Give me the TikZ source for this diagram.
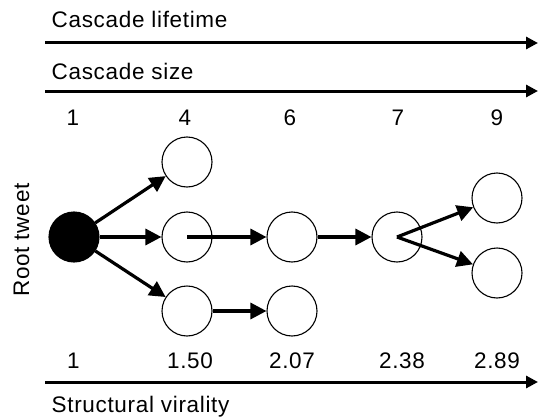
\documentclass[tikz,border=0pt]{standalone}
\usepackage{fontspec}
\setmainfont{Liberation Sans}[LetterSpace=3]
\usetikzlibrary{arrows.meta}
\begin{document}
\begin{tikzpicture}[x=1pt,y=-1pt,
  lbl/.style={font=\fontsize{22.5}{26}\selectfont, inner sep=0pt},
  twt/.style={circle, draw, line width=1.1pt, minimum size=50pt, inner sep=0pt},
  root/.style={twt, fill=black},
  edge/.style={line width=3.2pt, -{Triangle[length=16pt,width=16pt]}},
  axis/.style={line width=3pt, -{Triangle[length=12pt,width=12pt]}}]
\useasboundingbox (0,0) rectangle (538,420);
% axes
\coordinate (l0) at (45,43);  \coordinate (l1) at (538,43);
\coordinate (s0) at (45,91);  \coordinate (s1) at (538,91);
\coordinate (v0) at (45,382); \coordinate (v1) at (538,382);
\draw[axis] (l0) -- (l1);
\draw[axis] (s0) -- (s1);
\draw[axis] (v0) -- (v1);
\node[lbl, anchor=base west] (tl) at (51.5,28) {Cascade lifetime};
\node[lbl, anchor=base west] (ts) at (51.5,80) {Cascade size};
\node[lbl, anchor=base west] (tv) at (51.5,412) {Structural virality};
\node[lbl, rotate=90] (tr) at (21.5,240) {Root tweet};
% size numbers
\node[lbl, anchor=base] (n1) at (73,125) {1};
\node[lbl, anchor=base] (n2) at (185,125) {4};
\node[lbl, anchor=base] (n3) at (290,125) {6};
\node[lbl, anchor=base] (n4) at (398,125) {7};
\node[lbl, anchor=base] (n5) at (497,125) {9};
% virality numbers
\node[lbl, anchor=base] (m1) at (73.5,368) {1};
\node[lbl, anchor=base] (m2) at (190,368) {1.50};
\node[lbl, anchor=base] (m3) at (292,368) {2.07};
\node[lbl, anchor=base] (m4) at (402,368) {2.38};
\node[lbl, anchor=base] (m5) at (497,368) {2.89};
% tweets
\node[root] (R) at (74,237) {};
\node[twt] (A) at (187,162) {};
\node[twt] (B) at (187,237) {};
\node[twt] (C) at (187,311) {};
\node[twt] (D) at (292,237) {};
\node[twt] (E) at (292,311) {};
\node[twt] (F) at (397,237) {};
\node[twt] (G) at (497,198) {};
\node[twt] (H) at (497,273) {};
% cascade edges
\draw[edge] (R) -- (A);
\draw[edge] (R) -- (B);
\draw[edge] (R) -- (C);
\draw[edge] (B.center) -- (D);
\draw[edge] (C) -- (E);
\draw[edge] (D) -- (F);
\draw[edge] (F.center) -- (G);
\draw[edge] (F.center) -- (H);
\end{tikzpicture}
\end{document}
